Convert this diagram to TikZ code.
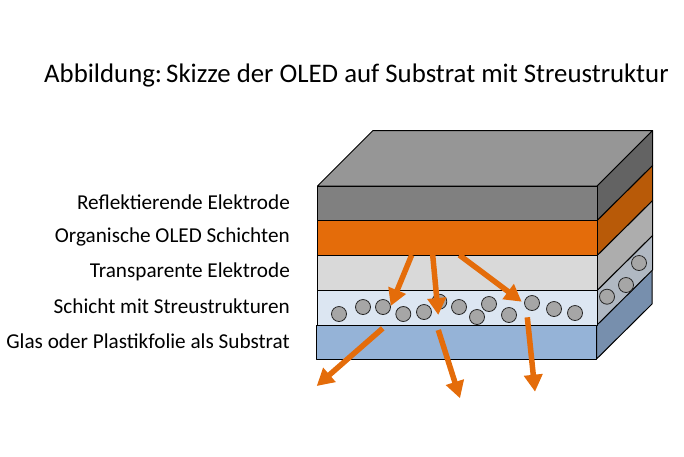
\documentclass[tikz,border=0pt]{standalone}
\usepackage{fontspec}
\setmainfont{Carlito}
\usetikzlibrary{arrows.meta}

\definecolor{oledorange}{HTML}{E46C0A}
\definecolor{oledorangeside}{HTML}{B85A08}
\definecolor{substrate}{HTML}{95B3D7}
\definecolor{substrateside}{HTML}{778FAD}
\definecolor{scatter}{HTML}{DCE6F2}
\definecolor{scatterside}{HTML}{B0B8C2}

\tikzset{
    layerface/.style={draw=black,line width=1pt,line join=round},
    particle/.style={shape=circle,draw=black!85,fill=black!35,line width=0.8pt,minimum size=15pt,inner sep=0pt},
    lightray/.style={draw=oledorange,line width=5.5pt,-{Triangle[width=18pt,length=17pt]}},
    layerlabel/.style={anchor=east,font=\fontsize{21.2pt}{25pt}\selectfont,inner sep=0pt},
}

\begin{document}
\begin{tikzpicture}[x=1pt,y=-1pt]
        \useasboundingbox (0,0) rectangle (684,456);

        \node[anchor=west,inner sep=0pt,font=\fontsize{26.8pt}{31pt}\selectfont] (title) at (44,75) {Abbildung:\hspace{-4pt} Skizze der OLED auf Substrat mit Streustruktur};

        % right side, bottom to top
        \draw[layerface,fill=substrateside] (596.5,325) -- (652,270) -- (652,304) -- (596.5,359) -- cycle;
        \draw[layerface,fill=scatterside] (597,290.5) -- (652.5,235.5) -- (652.5,270) -- (597,325) -- cycle;
        \draw[layerface,fill=black!32] (597,255.5) -- (652.5,200.5) -- (652.5,235.5) -- (597,290.5) -- cycle;
        \draw[layerface,fill=oledorangeside] (597,220.5) -- (652.5,165.5) -- (652.5,200.5) -- (597,255.5) -- cycle;
        \draw[layerface,fill=black!61] (597,186) -- (652.5,130.5) -- (652.5,165.5) -- (597,220.5) -- cycle;
        % top
        \draw[layerface,fill=black!41] (317.5,186) -- (373,130.5) -- (652.5,130.5) -- (597,186) -- cycle;
        % front
        \draw[layerface,fill=black!50] (317.5,186) rectangle (597,220.5);
        \draw[layerface,fill=oledorange] (317.5,220.5) rectangle (597,255.5);
        \draw[layerface,fill=black!15] (317.5,255.5) rectangle (597,290.5);
        \draw[layerface,fill=scatter] (317.5,290.5) rectangle (597,325);
        \draw[layerface,fill=substrate] (316.5,325) rectangle (596.5,359);

        % scattering particles
        \foreach \name/\x/\y in {p1/339/314,p2/363/307,p3/383/307,p4/403.3/314,p5/424/312,
                p6/439.3/301.7,p7/459/307,p8/477/317,p9/489/304,p10/509/315,p11/532/303,
                p12/554/309,p13/575/313,p14/607/296.7,p15/626/285,p16/639/263}
            \node[particle] (\name) at (\x,\y) {};

        % light rays
        \coordinate (ray1a) at (411.7,255);
        \coordinate (ray1b) at (390.7,306);
        \coordinate (ray2a) at (432.7,255);
        \coordinate (ray2b) at (438.3,315);
        \coordinate (ray3a) at (459.3,255);
        \coordinate (ray3b) at (521.7,301.7);
        \coordinate (ray4a) at (382.7,328.3);
        \coordinate (ray4b) at (316.7,386);
        \coordinate (ray5a) at (438.3,330);
        \coordinate (ray5b) at (460,398.3);
        \coordinate (ray6a) at (527.3,317.3);
        \coordinate (ray6b) at (535,391.7);

        \draw [lightray](ray1a) -- (ray1b);
        \draw [lightray](ray2a) -- (ray2b);
        \draw [lightray](ray3a) -- (ray3b);
        \draw [lightray](ray4a) -- (ray4b);
        \draw [lightray](ray5a) -- (ray5b);
        \draw [lightray](ray6a) -- (ray6b);

        \node[layerlabel] (reflektor) at (290,202) {Reflektierende Elektrode};
        \node[layerlabel] (organisch) at (290,237) {Organische OLED Schichten};
        \node[layerlabel] (transparent) at (290,272) {Transparente Elektrode};
        \node[layerlabel] (streu) at (290,306) {Schicht mit Streustrukturen};
        \node[layerlabel] (glas) at (290,341) {Glas oder Plastikfolie als Substrat};
    \end{tikzpicture}
\end{document}
